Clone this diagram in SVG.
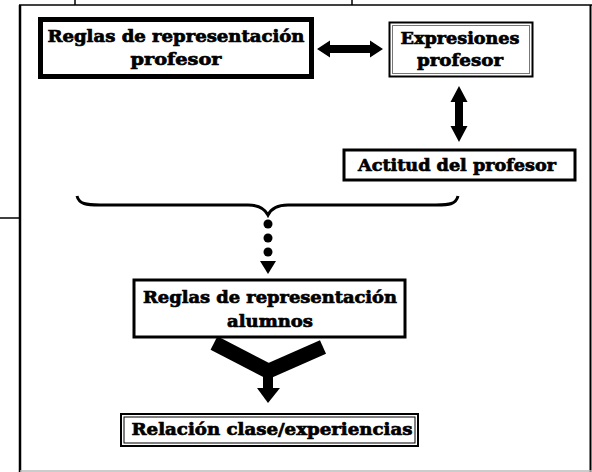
<svg xmlns="http://www.w3.org/2000/svg" width="592" height="472" viewBox="0 0 592 472">
<style>
  .lbl { font-family: "DejaVu Serif", "Liberation Serif", serif; font-weight: bold; font-size: 17px; fill: #000; stroke: #000; stroke-width: 0.7px; text-anchor: middle; }
  .box { fill: #fff; stroke: #000; }
  .frame { fill: none; stroke: #000; }
  .arrow { fill: #000; stroke: none; }
</style>
<rect x="0" y="0" width="592" height="472" fill="#fff"/>
<g id="frame">
  <line class="frame" x1="75" y1="0" x2="75" y2="5" stroke-width="1.5"/>
  <line class="frame" x1="352" y1="0" x2="352" y2="5" stroke-width="1.5"/>
  <line class="frame" x1="19" y1="5" x2="592" y2="5" stroke-width="1.5" stroke="#333"/>
  <line class="frame" x1="20" y1="5" x2="20" y2="472" stroke-width="2.5"/>
  <line class="frame" x1="590.5" y1="5" x2="590.5" y2="472" stroke-width="2"/>
  <line class="frame" x1="0" y1="218" x2="20" y2="218" stroke-width="1.5"/>
  <line x1="20" y1="471" x2="592" y2="471" stroke="#bbb" stroke-width="1.5"/>
</g>
<g id="n1">
  <rect class="box" x="40.5" y="19.5" width="271" height="57" stroke-width="5"/>
  <text class="lbl" x="176" y="42" textLength="257" lengthAdjust="spacingAndGlyphs">Reglas de representación</text>
  <text class="lbl" x="176" y="65" textLength="91" lengthAdjust="spacingAndGlyphs">profesor</text>
</g>
<g id="n2">
  <rect class="box" x="389.5" y="22.5" width="143" height="54" stroke-width="2"/>
  <rect x="392.5" y="25.5" width="137" height="48" fill="none" stroke="#777" stroke-width="1"/>
  <text class="lbl" x="460" y="44" textLength="119" lengthAdjust="spacingAndGlyphs">Expresiones</text>
  <text class="lbl" x="460" y="66" textLength="86" lengthAdjust="spacingAndGlyphs">profesor</text>
</g>
<g id="n3">
  <rect class="box" x="344" y="150" width="231" height="30" stroke-width="3"/>
  <text class="lbl" x="457" y="171" textLength="198" lengthAdjust="spacingAndGlyphs">Actitud del profesor</text>
</g>
<g id="n4">
  <rect class="box" x="134" y="280" width="271" height="57" stroke-width="3"/>
  <text class="lbl" x="270" y="303" textLength="254" lengthAdjust="spacingAndGlyphs">Reglas de representación</text>
  <text class="lbl" x="270" y="327" textLength="86" lengthAdjust="spacingAndGlyphs">alumnos</text>
</g>
<g id="n5">
  <rect class="box" x="121" y="414" width="297" height="32" stroke-width="2"/>
  <rect x="124" y="417" width="291" height="26" fill="none" stroke="#000" stroke-width="1"/>
  <text class="lbl" x="272" y="435" textLength="281" lengthAdjust="spacingAndGlyphs">Relación clase/experiencias</text>
</g>
<g id="connectors">
  <polygon class="arrow" points="317,49 330,40.5 330,45 370,45 370,40.5 383,49 370,57.5 370,53 330,53 330,57.5"/>
  <polygon class="arrow" points="459,86 467.5,102 463,102 463,126 467.5,126 459,142 450.5,126 455,126 455,102 450.5,102"/>
  <path d="M77,196 C79,204 86,205 100,205 L248,205 C260,205 265,209 268,215 C271,209 276,205 288,205 L436,205 C450,205 456,204 458,196" fill="none" stroke="#000" stroke-width="3"/>
  <circle class="arrow" cx="268" cy="224" r="4.5"/>
  <circle class="arrow" cx="268" cy="238" r="4.5"/>
  <circle class="arrow" cx="268" cy="252" r="4.5"/>
  <polygon class="arrow" points="260,261 276,261 268,274"/>
  <line x1="214" y1="343" x2="272" y2="373" stroke="#000" stroke-width="15"/>
  <line x1="323" y1="347" x2="264" y2="373" stroke="#000" stroke-width="15"/>
  <rect class="arrow" x="263" y="370" width="10" height="20"/>
  <polygon class="arrow" points="257,388 280,388 268,403"/>
</g>
</svg>
